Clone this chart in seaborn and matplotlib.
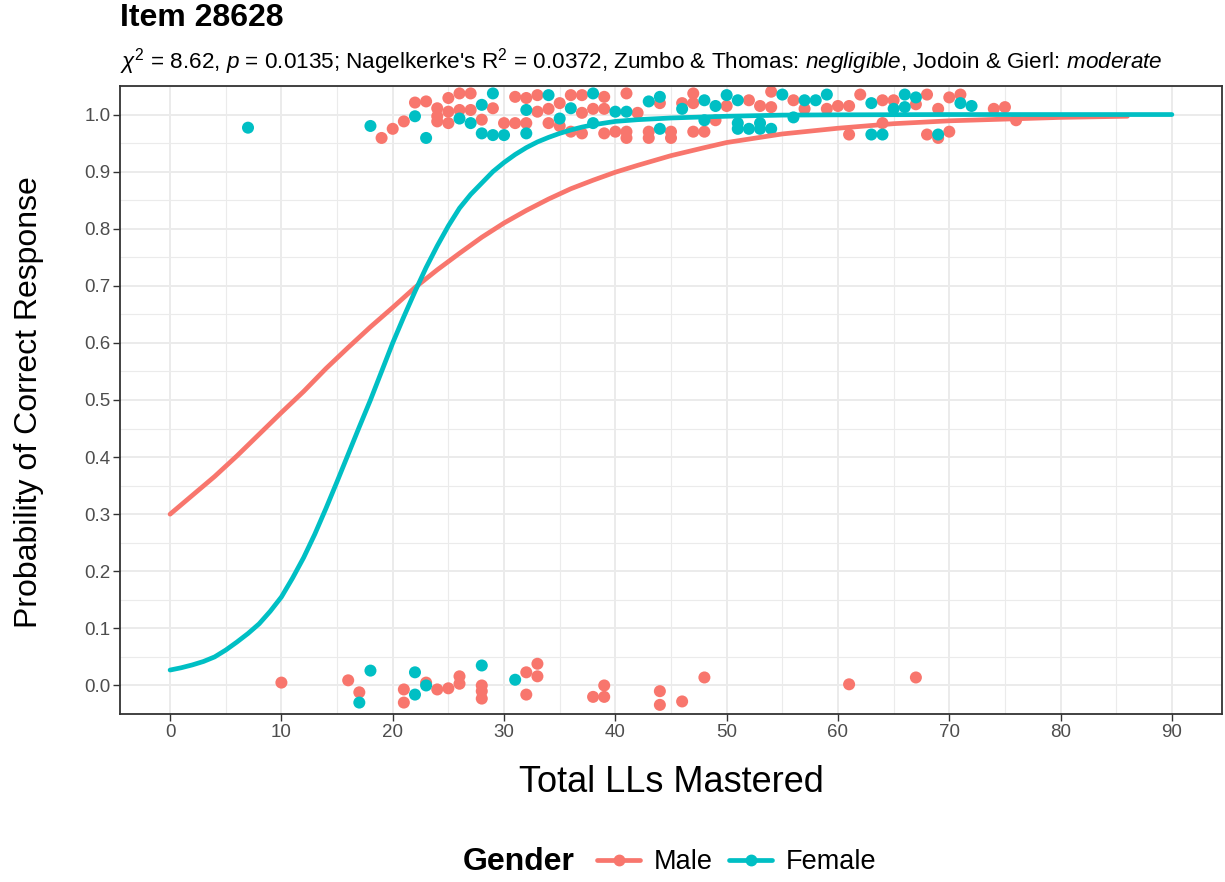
import pandas as pd
import seaborn as sns
import matplotlib.pyplot as plt
from matplotlib.lines import Line2D
from matplotlib.ticker import MultipleLocator

# Fitted curves
male_curve_x = [0, 2, 4, 6, 8, 10, 12, 14, 16, 18, 20, 22, 24, 26, 28, 30, 32, 34, 36, 38, 40,
                42, 45, 48, 50, 55, 60, 65, 70, 75, 80, 86]
male_curve_y = [0.300, 0.333, 0.366, 0.402, 0.440, 0.478, 0.515, 0.555, 0.592, 0.628, 0.662,
                0.697, 0.728, 0.757, 0.785, 0.810, 0.832, 0.852, 0.870, 0.885, 0.899,
                0.911, 0.928, 0.942, 0.951, 0.966, 0.976, 0.984, 0.989, 0.992, 0.995, 0.997]
female_curve_x = [0, 1, 2, 3, 4, 5, 6, 7, 8, 9, 10, 11, 12, 13, 14, 15, 16, 17, 18, 19, 20,
                  21, 22, 23, 24, 25, 26, 27, 28, 29, 30, 31, 32, 33, 34, 35, 36, 37, 38, 39, 40,
                  42, 45, 50, 55, 60, 70, 80, 90]
female_curve_y = [0.027, 0.031, 0.036, 0.042, 0.050, 0.062, 0.076, 0.091, 0.108, 0.130, 0.155,
                  0.188, 0.224, 0.265, 0.310, 0.357, 0.405, 0.453, 0.500, 0.550, 0.600,
                  0.646, 0.690, 0.732, 0.770, 0.805, 0.836, 0.860, 0.880, 0.900, 0.916,
                  0.930, 0.942, 0.952, 0.960, 0.967, 0.973, 0.978, 0.982, 0.985, 0.988,
                  0.991, 0.994, 0.997, 0.999, 0.9995, 1.0, 1.0, 1.0]

# Jittered observed responses
male_x = [19, 20, 21, 22, 23, 24, 24, 24, 25, 25, 25, 26, 26, 27, 27, 28, 29, 30, 31, 31,
          32, 32, 33, 33, 34, 34, 35, 35, 36, 36, 37, 37, 37, 38, 39, 39, 39, 40, 41, 41,
          41, 42, 43, 43, 44, 45, 45, 46, 47, 47, 47, 48, 49, 50, 52, 53, 54, 54, 56, 57,
          59, 60, 61, 61, 62, 64, 64, 65, 67, 68, 68, 69, 69, 70, 70, 71, 74, 75, 76,
          10, 16, 17, 21, 21, 23, 24, 25, 26, 26, 28, 28, 28, 32, 32, 33, 33, 38, 39, 39,
          44, 44, 46, 48, 61, 67]
male_y = [0.959, 0.975, 0.988, 1.021, 1.023, 1.011, 0.997, 0.988, 1.029, 1.005, 0.985, 1.037,
          1.008, 1.037, 1.008, 0.991, 1.011, 0.985, 1.031, 0.985, 1.029, 0.985, 1.034, 1.005,
          0.985, 1.010, 1.020, 0.980, 1.034, 0.970, 1.034, 1.003, 0.967, 1.010, 1.031, 1.010,
          0.967, 0.970, 1.037, 0.970, 0.959, 1.003, 0.970, 0.959, 1.020, 0.970, 0.959, 1.020,
          1.037, 1.020, 0.970, 0.970, 0.990, 1.015, 1.025, 1.015, 1.040, 1.013, 1.025, 1.010,
          1.010, 1.015, 1.015, 0.965, 1.035, 1.025, 0.985, 1.025, 1.018, 1.035, 0.965, 1.010,
          0.959, 1.030, 0.970, 1.035, 1.010, 1.013, 0.990,
          0.005, 0.009, -0.012, -0.007, -0.030, 0.005, -0.007, -0.005, 0.016, 0.003, 0.000,
          -0.010, -0.023, 0.023, -0.016, 0.038, 0.016, -0.020, 0.000, -0.020, -0.010, -0.034,
          -0.028, 0.014, 0.002, 0.014]
female_x = [7, 18, 22, 23, 26, 27, 28, 28, 29, 29, 30, 32, 32, 34, 35, 36, 38, 38, 40, 41,
            43, 44, 44, 46, 48, 48, 49, 50, 51, 51, 51, 52, 53, 53, 54, 55, 56, 57, 58, 59,
            63, 63, 64, 65, 66, 66, 67, 69, 71, 72,
            17, 18, 22, 22, 23, 28, 31]
female_y = [0.977, 0.980, 0.997, 0.959, 0.993, 0.985, 1.017, 0.967, 1.037, 0.964, 0.964, 1.008,
            0.967, 1.034, 0.993, 1.011, 1.037, 0.985, 1.005, 1.005, 1.023, 1.031, 0.975, 1.010,
            1.025, 0.990, 1.015, 1.034, 1.025, 0.985, 0.975, 0.975, 0.985, 0.975, 0.975, 1.035,
            0.995, 1.025, 1.025, 1.035, 1.020, 0.965, 0.965, 1.010, 1.035, 1.013, 1.030, 0.965,
            1.020, 1.015,
            -0.030, 0.026, 0.023, -0.016, 0.000, 0.035, 0.010]

groups = ['Male', 'Female']
colors = {'Male': '#F8766D', 'Female': '#00BFC4'}

pts = pd.DataFrame({
    'total': male_x + female_x,
    'prob': male_y + female_y,
    'Gender': ['Male'] * len(male_x) + ['Female'] * len(female_x),
})
curves = pd.DataFrame({
    'total': male_curve_x + female_curve_x,
    'prob': male_curve_y + female_curve_y,
    'Gender': ['Male'] * len(male_curve_x) + ['Female'] * len(female_curve_x),
})

sns.set_theme(style='white')
plt.rcParams['font.family'] = ['Liberation Sans', 'DejaVu Sans']
plt.rcParams['text.color'] = 'black'
plt.rcParams['mathtext.fontset'] = 'custom'
plt.rcParams['mathtext.rm'] = 'Liberation Sans'
plt.rcParams['mathtext.it'] = 'Liberation Sans:italic'

fig = plt.figure(figsize=(12.25, 8.82), dpi=100)
ax = fig.add_axes([120 / 1225, 1 - 714 / 882, 1102 / 1225, 628 / 882])

sns.scatterplot(data=pts, x='total', y='prob', hue='Gender', hue_order=groups,
                palette=colors, s=75, linewidth=0, legend=False, ax=ax, zorder=2)
sns.lineplot(data=curves, x='total', y='prob', hue='Gender', hue_order=groups,
             palette=colors, lw=3.4, legend=False, ax=ax, zorder=3)

ax.set_xlim(-4.5, 94.5)
ax.set_ylim(-0.05, 1.05)
ax.xaxis.set_major_locator(MultipleLocator(10))
ax.xaxis.set_minor_locator(MultipleLocator(5))
ax.yaxis.set_major_locator(MultipleLocator(0.1))
ax.yaxis.set_minor_locator(MultipleLocator(0.05))
ax.yaxis.set_major_formatter(plt.FormatStrFormatter('%.1f'))
ax.grid(which='major', color='#EBEBEB', lw=1.4, zorder=0)
ax.grid(which='minor', color='#EBEBEB', lw=0.8, zorder=0)
ax.set_axisbelow(True)
for sp in ax.spines.values():
    sp.set_color('#333333')
    sp.set_linewidth(1.3)
ax.tick_params(which='major', direction='out', length=5, width=1, color='#333333',
               labelsize=13.5, labelcolor='#4D4D4D', pad=2, bottom=True, left=True)
ax.tick_params(which='minor', length=0)

ax.set_xlabel('Total LLs Mastered', fontsize=26, color='black')
ax.set_ylabel('Probability of Correct Response', fontsize=23, color='black')
ax.xaxis.set_label_coords(0.5, -0.082)
ax.yaxis.set_label_coords(-0.069, 0.497)

fig.text(120 / 1225, 1 - 18 / 882, 'Item 28628', fontsize=23, fontweight='bold',
         ha='left', va='center')
fig.text(120 / 1225, 1 - 62 / 882,
         r"$\chi^2$ = 8.62, $p$ = 0.0135; Nagelkerke's R$^2$ = 0.0372, "
         r"Zumbo & Thomas: $\mathit{negligible}$, Jodoin & Gierl: $\mathit{moderate}$",
         fontsize=16.2, ha='left', va='center')

# Legend at bottom, title on the left like ggplot
fig.text(463 / 1225, 1 - 862 / 882, 'Gender', fontsize=23, fontweight='bold',
         ha='left', va='center')
handles = [Line2D([], [], color=colors[g], lw=3.4, marker='o', markersize=7.5) for g in groups]
fig.legend(handles, groups, loc='center left', bbox_to_anchor=(597 / 1225, 1 - 862 / 882),
           ncol=2, frameon=False, fontsize=19.5, handlelength=1.6, handletextpad=0.5,
           columnspacing=0.6, borderpad=0, borderaxespad=0)

fig.savefig('out.png', dpi=100)
